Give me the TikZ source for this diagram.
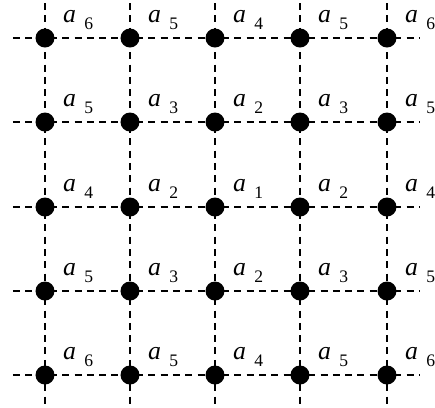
\documentclass[tikz,border=0pt]{standalone}
\usepackage{fontspec}
\setmainfont{Liberation Serif}
\tikzset{
  gridline/.style={dash pattern=on 6pt off 4.5pt, line width=1pt},
  site/.style={circle, fill=black, inner sep=0pt, minimum size=0.57cm},
  weight/.style={inner sep=0pt, anchor=base west, font=\fontsize{22}{22}\selectfont},
}
\newcommand{\wlabel}[1]{\textit{a}\hspace{7pt}\raisebox{-6pt}{\fontsize{15}{15}\selectfont #1}}

\begin{document}
\begin{tikzpicture}[x=0.03cm, y=-0.03cm]
  \useasboundingbox (0,0) rectangle (435,408);
  % grid line end points
  \foreach \y [count=\j] in {38,122,207,291,375} {
    \coordinate (hl-\j) at (13,\y);
    \coordinate (hr-\j) at (420,\y);
  }
  \foreach \x [count=\i] in {45,130,215,300,387} {
    \coordinate (vt-\i) at (\x,3);
    \coordinate (vb-\i) at (\x,408);
  }
  \foreach \k in {1,...,5} {
    \draw[gridline] (hl-\k) -- (hr-\k);
    \draw[gridline] (vt-\k) -- (vb-\k);
  }
  % sites with their weights
  \foreach \y/\row [count=\j] in {38/{6,5,4,5,6},122/{5,3,2,3,5},207/{4,2,1,2,4},291/{5,3,2,3,5},375/{6,5,4,5,6}} {
    \foreach \x [count=\i] in {45,130,215,300,387} {
      \node[site] (d-\i-\j) at (\x,\y) {};
    }
    \foreach \w [count=\i] in \row {
      \node[weight] (w-\i-\j) at ([xshift=18*0.03cm, yshift=16*0.03cm]d-\i-\j.center) {\wlabel{\w}};
    }
  }
\end{tikzpicture}
\end{document}
